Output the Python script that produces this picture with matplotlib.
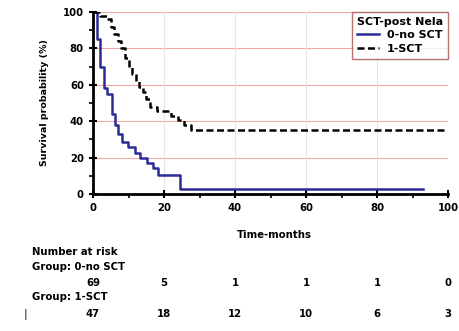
import numpy as np
import matplotlib.pyplot as plt
from matplotlib.transforms import blended_transform_factory
from matplotlib.ticker import MultipleLocator

plt.rcParams['font.family'] = ['DejaVu Sans']
plt.rcParams['font.weight'] = 'bold'

# Kaplan-Meier step data
t_nosct = [0, 1, 2, 3, 4, 5.3, 6.2, 7.1, 8.1, 9.9, 11.8, 13.2, 15.1, 17, 18.4, 24.5, 93]
s_nosct = [100, 85, 70, 58, 55, 44, 38, 33, 28.7, 26, 22.4, 19.6, 16.9, 14.1, 10.4, 2.5, 2.5]

t_sct = [0, 2, 4, 5, 6, 7, 8, 9, 10, 11, 12, 13, 14, 15, 16, 18, 22, 24, 25.5, 27.5, 100]
s_sct = [100, 98, 96, 92, 88, 84, 80, 75, 70, 66, 62, 59, 56, 52, 48, 45.5, 43, 40.5, 38, 35.2, 35.2]

risk_times = [0, 20, 40, 60, 80, 100]
risk_nosct = [69, 5, 1, 1, 1, 0]
risk_sct = [47, 18, 12, 10, 6, 3]

fs = 7.3

fig = plt.figure(figsize=(4.59, 3.31), dpi=100)
ax = fig.add_axes([93/459, 1-194/331, (448-93)/459, (194-12)/331])

for y in [20, 40, 60, 80, 100]:
    ax.axhline(y, color='#f2a8a8', lw=0.8, zorder=0)
for x in [20, 40, 60, 80]:
    ax.axvline(x, color='#e4e4e4', lw=0.8, zorder=0)

ax.step(t_nosct, s_nosct, where='post', color='#2b2b96', lw=1.8, label='0-no SCT')
ax.step(t_sct, s_sct, where='post', color='black', lw=1.8, ls=(0, (2.8, 1.4)), label='1-SCT')

ax.set_xlim(0, 100)
ax.set_ylim(0, 100)
ax.xaxis.set_major_locator(MultipleLocator(20))
ax.xaxis.set_minor_locator(MultipleLocator(10))
ax.yaxis.set_major_locator(MultipleLocator(20))
ax.yaxis.set_minor_locator(MultipleLocator(10))
ax.tick_params(which='major', direction='inout', length=6, width=1.5, labelsize=fs)
ax.tick_params(which='minor', direction='out', length=3, width=1.2)
for lab in ax.get_xticklabels() + ax.get_yticklabels():
    lab.set_fontweight('bold')
for side in ['top', 'right']:
    ax.spines[side].set_visible(False)
for side in ['left', 'bottom']:
    ax.spines[side].set_linewidth(2)
ax.set_ylabel('Survival probability (%)', fontsize=6.8, fontweight='bold', labelpad=10)

leg = ax.legend(title='SCT-post Nela', loc='upper right', fontsize=8, title_fontproperties={'weight': 'bold', 'size': 8},
                frameon=True, fancybox=False, borderaxespad=0.0, handlelength=2.0, handletextpad=0.7,
                borderpad=0.45, labelspacing=0.3)
leg._legend_box.align = 'left'
leg.get_frame().set_edgecolor('#a05050')
leg.get_frame().set_linewidth(1)
for txt in leg.get_texts():
    txt.set_fontweight('bold')

fig.text(274/459, 1-235/331, 'Time-months', ha='center', va='center', fontsize=fs, fontweight='bold')

tr = blended_transform_factory(ax.transData, fig.transFigure)
fig.text(32/459, 1-252/331, 'Number at risk', ha='left', va='center', fontsize=fs, fontweight='bold')
fig.text(32/459, 1-267/331, 'Group: 0-no SCT', ha='left', va='center', fontsize=fs, fontweight='bold')
fig.text(32/459, 1-297/331, 'Group: 1-SCT', ha='left', va='center', fontsize=fs, fontweight='bold')
for x, n in zip(risk_times, risk_nosct):
    fig.text(x, 1-283/331, str(n), transform=tr, ha='center', va='center', fontsize=fs, fontweight='bold')
for x, n in zip(risk_times, risk_sct):
    fig.text(x, 1-314/331, str(n), transform=tr, ha='center', va='center', fontsize=fs, fontweight='bold')
fig.text(26/459, 1-314/331, '|', ha='center', va='center', fontsize=7, color='#444444')

fig.savefig('out.png', dpi=100)
